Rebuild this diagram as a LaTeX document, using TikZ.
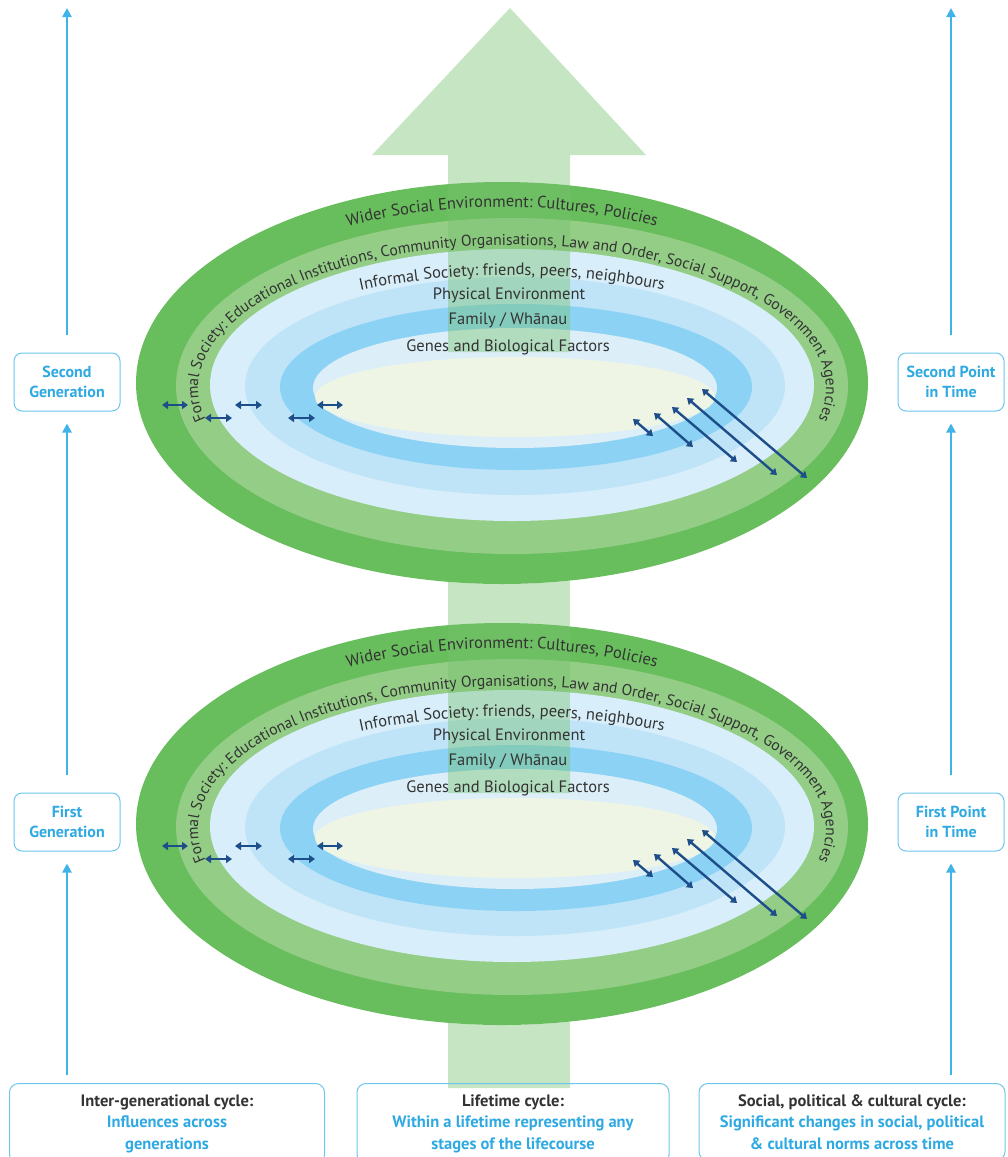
\documentclass[tikz,border=0pt]{standalone}
\usepackage{fontspec}
\setmainfont{PT Sans}
\usetikzlibrary{arrows.meta,decorations.text}

\definecolor{ringdark}{HTML}{68BD5D}
\definecolor{ringgreen}{HTML}{93CD86}
\definecolor{ringpale}{HTML}{D8EEFA}
\definecolor{ringlight}{HTML}{BFE4F8}
\definecolor{ringmid}{HTML}{8CD2F4}
\definecolor{ringgene}{HTML}{DCEFF8}
\definecolor{ringcore}{HTML}{EEF5E5}
\definecolor{shaftgreen}{HTML}{78C270}
\definecolor{cycleblue}{HTML}{2EA9E1}
\definecolor{frameblue}{HTML}{6CC6EF}
\definecolor{linkblue}{HTML}{3FB4E9}
\definecolor{pairnavy}{HTML}{1D4E89}
\definecolor{labelgray}{HTML}{333333}

\newcommand{\ringfont}{\fontsize{16.5}{18}\selectfont}
\newcommand{\formalfont}{\fontsize{15.6}{18}\selectfont}

\tikzset{
  sidebox/.style={draw=frameblue, line width=1pt, rounded corners=8pt, fill=white,
    minimum width=106pt, minimum height=58pt, align=center, text=cycleblue,
    font=\bfseries\fontsize{16}{20}\selectfont},
  cyclebox/.style={draw=frameblue, line width=1pt, rounded corners=9pt, anchor=north,
    align=center, text=cycleblue, inner ysep=11pt, font=\bfseries\fontsize{16.5}{21.5}\selectfont},
  linkarrow/.style={linkblue, line width=2.4pt, -{Triangle[width=9pt,length=9pt]}},
  pairarrow/.style={pairnavy, line width=2.4pt, {Triangle[width=8pt,length=6pt]}-{Triangle[width=8pt,length=6pt]}},
  ringtext/.style={text=labelgray, font=\ringfont},
  shaft/.style={fill=shaftgreen, fill opacity=0.42},
}

\begin{document}
\begin{tikzpicture}[x=1pt, y=1pt]
\useasboundingbox (0,0) rectangle (1008,-1157);
\clip (0,0) rectangle (1008,-1157);

% rings of the two discs
\foreach \dy in {0,-441} {
  \begin{scope}[yshift=\dy pt]
    \fill[ringdark] (502,-383) ellipse [x radius=366pt, y radius=201pt];
    \fill[ringgreen] (512,-386) ellipse [x radius=336pt, y radius=168pt];
    \fill[ringpale] (512,-385) ellipse [x radius=302pt, y radius=136pt];
    \fill[ringlight] (515,-386) ellipse [x radius=270pt, y radius=109pt];
    \fill[ringmid] (516,-387) ellipse [x radius=236pt, y radius=83pt];
    \fill[ringgene] (515,-388) ellipse [x radius=202pt, y radius=60pt];
    \fill[ringcore] (515,-397) ellipse [x radius=200pt, y radius=40pt];
  \end{scope}
}

% lifetime arrow through the discs
\fill[shaft] (510,-8) -- (646,-155) -- (570,-155) -- (570,-352) -- (448,-352) -- (448,-155) -- (372,-155) -- cycle;
\fill[shaft] (448,-581.8) arc[start angle=261.52, end angle=280.71, x radius=366pt, y radius=201pt] -- (570,-793) -- (448,-793) -- cycle;
\fill[shaft] (448,-1022.8) arc[start angle=261.52, end angle=280.71, x radius=366pt, y radius=201pt] -- (570,-1088) -- (448,-1088) -- cycle;

% labels and small arrows of the two discs
\foreach \dy/\disc in {0/two,-441/one} {
  \begin{scope}[yshift=\dy pt]
    \path[decorate, decoration={text along path, text align=center, text color=labelgray,
      text={|\ringfont|Wider Social Environment: Cultures, Policies}}]
      ([shift={(502,-383)}]150:338pt and 176pt) arc[start angle=150, end angle=30, x radius=338pt, y radius=176pt];
    \path[decorate, decoration={text along path, text align=center, text color=labelgray,
      text={|\formalfont|Formal Society: Educational Institutions, Community Organisations, Law and Order, Social Support, Government Agencies}}]
      ([shift={(512,-388)}]220:314pt and 143pt) arc[start angle=220, end angle=-40, x radius=314pt, y radius=143pt];
    \path[decorate, decoration={text along path, text align=center, text color=labelgray,
      text={|\ringfont|Informal Society: friends, peers, neighbours}}]
      ([shift={(512,-386)}]140:300pt and 111pt) arc[start angle=140, end angle=40, x radius=300pt, y radius=111pt];
    \node[ringtext] (physical\disc) at (509,-295) {Physical Environment};
    \node[ringtext] (family\disc) at (508,-320) {Family / Whānau};
    \node[ringtext] (genes\disc) at (508,-347) {Genes and Biological Factors};

    \draw[pairarrow] (162,-405) -- (188,-405);
    \draw[pairarrow] (205,-418) -- (232,-418);
    \draw[pairarrow] (235,-405) -- (262,-405);
    \draw[pairarrow] (288,-418) -- (315,-418);
    \draw[pairarrow] (317,-405) -- (343,-405);
    \draw[pairarrow] (633,-419) -- (653,-436);
    \draw[pairarrow] (654,-413) -- (693,-447);
    \draw[pairarrow] (672,-407) -- (737,-462);
    \draw[pairarrow] (687,-398) -- (777,-475);
    \draw[pairarrow] (702,-389) -- (807,-478);
  \end{scope}
}

% side boxes
\node[sidebox] (secondgen) at (67,-382) {Second\\Generation};
\node[sidebox] (firstgen) at (67,-822) {First\\Generation};
\node[sidebox] (secondtime) at (951,-382) {Second Point\\in Time};
\node[sidebox] (firsttime) at (951,-822) {First Point\\in Time};

% cycle boxes
\node[cyclebox, minimum width=315pt] (intergen) at (167,-1083) {{\color{labelgray}Inter-generational cycle:}\\Influences across\\generations};
\node[cyclebox, minimum width=312pt] (lifetime) at (513,-1083) {{\color{labelgray}Lifetime cycle:}\\Within a lifetime representing any\\stages of the lifecourse};
\node[cyclebox, minimum width=306pt] (social) at (852,-1083) {{\color{labelgray}Social, political \& cultural cycle:}\\Significant changes in social, political\\\& cultural norms across time};

% time lines
\coordinate (genbase) at (67,-1075);
\coordinate (gentop) at (67,-8);
\coordinate (timebase) at (951,-1075);
\coordinate (timetop) at (951,-8);
\draw[linkarrow, shorten >=12pt] (genbase) -- (firstgen);
\draw[linkarrow, shorten <=18pt, shorten >=12pt] (firstgen) -- (secondgen);
\draw[linkarrow, shorten <=18pt] (secondgen) -- (gentop);
\draw[linkarrow, shorten >=12pt] (timebase) -- (firsttime);
\draw[linkarrow, shorten <=18pt, shorten >=12pt] (firsttime) -- (secondtime);
\draw[linkarrow, shorten <=18pt] (secondtime) -- (timetop);
\end{tikzpicture}
\end{document}
